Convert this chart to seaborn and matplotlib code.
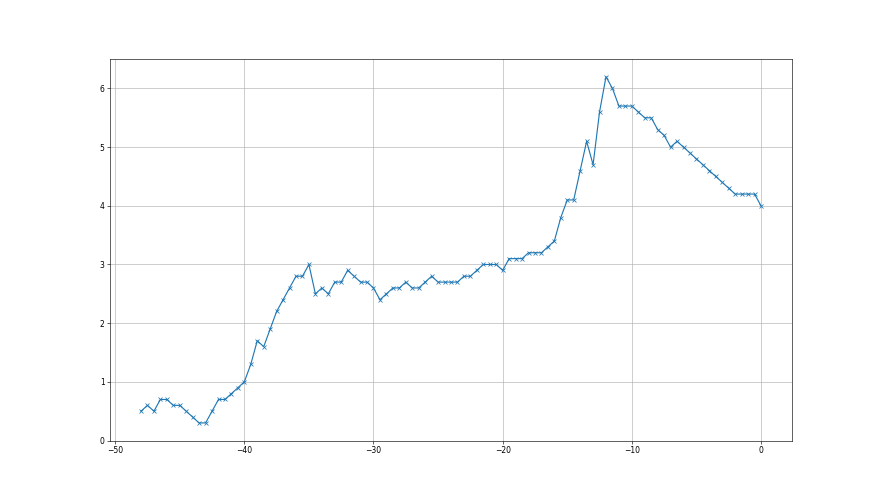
import matplotlib
matplotlib.use("Agg")
import matplotlib.pyplot as plt
import numpy as np
import pandas as pd
import seaborn as sns

# time offsets, half-unit steps from -48 to 0
offsets = np.arange(-48, 0.25, 0.5)

values = [
    0.5, 0.6, 0.5, 0.7, 0.7, 0.6, 0.6, 0.5, 0.4, 0.3, 0.3, 0.5, 0.7, 0.7, 0.8, 0.9, 1.0,
    1.3, 1.7, 1.6, 1.9, 2.2, 2.4, 2.6, 2.8, 2.8, 3.0, 2.5, 2.6, 2.5, 2.7, 2.7, 2.9, 2.8, 2.7, 2.7, 2.6,
    2.4, 2.5, 2.6, 2.6, 2.7, 2.6, 2.6, 2.7, 2.8, 2.7, 2.7, 2.7, 2.7, 2.8, 2.8, 2.9, 3.0, 3.0, 3.0, 2.9,
    3.1, 3.1, 3.1, 3.2, 3.2, 3.2, 3.3, 3.4, 3.8, 4.1, 4.1, 4.6, 5.1, 4.7, 5.6, 6.2, 6.0, 5.7, 5.7, 5.7,
    5.6, 5.5, 5.5, 5.3, 5.2, 5.0, 5.1, 5.0, 4.9, 4.8, 4.7, 4.6, 4.5, 4.4, 4.3, 4.2, 4.2, 4.2, 4.2, 4.0,
]

df = pd.DataFrame({'x': offsets, 'y': values})

fig, ax = plt.subplots(figsize=(16, 9))
sns.lineplot(data=df, x='x', y='y', marker='x', color='#1f77b4',
             markeredgecolor='#1f77b4', markeredgewidth=1.0, markersize=6, ax=ax)
ax.set_xlabel('')
ax.set_ylabel('')
ax.set_ylim(bottom=0)
ax.grid(True)
ax.set_axisbelow(True)

fig.savefig('out.png', dpi=55)
